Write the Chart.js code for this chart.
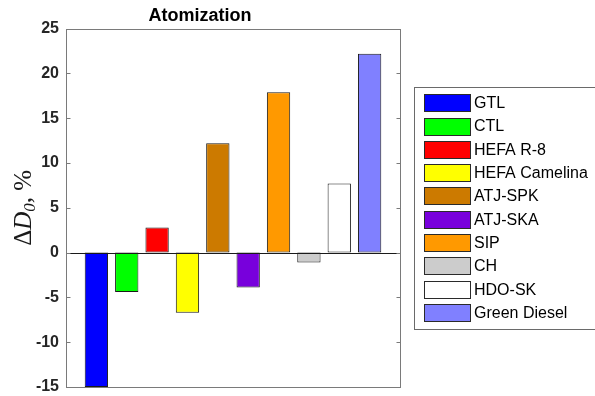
<!DOCTYPE html>
<html>
<head>
<meta charset="utf-8">
<script src="https://cdn.jsdelivr.net/npm/chart.js@4.4.1/dist/chart.umd.min.js"></script>
<style>
  html, body { margin: 0; padding: 0; background: #fff; }
  #wrap { width: 595px; height: 396px; }
</style>
</head>
<body>
<div id="wrap"><canvas id="c" width="595" height="396"></canvas></div>
<script>
// Fuel names, relative change in atomization diameter (%), and bar colours
const fuels = ['GTL', 'CTL', 'HEFA R-8', 'HEFA Camelina', 'ATJ-SPK', 'ATJ-SKA', 'SIP', 'CH', 'HDO-SK', 'Green Diesel'];
const deltaD0 = [-15, -4.4, 2.8, -6.7, 12.2, -3.9, 17.9, -1.1, 7.7, 22.2];
const fuelColors = ['#0000ff', '#00ff00', '#ff0000', '#ffff00', '#cc7a00', '#7800dc', '#ff9900', '#cccccc', '#ffffff', '#8080ff'];
const yTicks = [-15, -10, -5, 0, 5, 10, 15, 20, 25];
const chartTitle = 'Atomization';

const SANS = '"Liberation Sans", Arial, Helvetica, sans-serif';
const SERIF = '"Liberation Serif", "Times New Roman", serif';

const datasets = fuels.map((name, i) => ({
  label: name,
  data: [deltaD0[i]],
  backgroundColor: fuelColors[i],
  borderColor: '#1a1a1a',
  borderWidth: 1,
  borderSkipped: false,
  categoryPercentage: 0.909,
  barPercentage: 0.768
}));

// Axes box, inward tick marks on both sides and the zero baseline
const axesBox = {
  id: 'axesBox',
  afterDatasetsDraw(chart) {
    const { ctx, chartArea: a, scales } = chart;
    const y = scales.y;
    ctx.save();
    ctx.lineWidth = 1;
    const y0 = Math.round(y.getPixelForValue(0)) + 0.5;
    ctx.strokeStyle = '#1a1a1a';
    ctx.beginPath();
    ctx.moveTo(a.left, y0);
    ctx.lineTo(a.right, y0);
    ctx.stroke();
    ctx.strokeStyle = '#7a7a7a';
    const L = Math.round(a.left) + 0.5, R = Math.round(a.right) + 0.5;
    const T = Math.round(a.top) + 0.5, B = Math.round(a.bottom) + 0.5;
    ctx.strokeRect(L, T, R - L, B - T);
    ctx.beginPath();
    yTicks.forEach(v => {
      const py = Math.round(y.getPixelForValue(v)) + 0.5;
      ctx.moveTo(L, py); ctx.lineTo(L + 4, py);
      ctx.moveTo(R, py); ctx.lineTo(R - 4, py);
    });
    ctx.stroke();
    ctx.restore();
  }
};

// Rotated axis label: ΔD₀, %
const yLabel = {
  id: 'yLabel',
  afterDraw(chart) {
    const { ctx, chartArea: a } = chart;
    const big = 25, small = 17;
    const parts = [
      { t: '\u0394', f: `${big}px ${SERIF}`, dy: 0 },
      { t: 'D', f: `italic ${big}px ${SERIF}`, dy: 0 },
      { t: '0', f: `italic ${small}px ${SERIF}`, dy: 4 },
      { t: ', %', f: `${big}px ${SERIF}`, dy: 0 }
    ];
    ctx.save();
    let total = 0;
    parts.forEach(p => { ctx.font = p.f; p.w = ctx.measureText(p.t).width; total += p.w; });
    const cy = (a.top + a.bottom) / 2;
    ctx.translate(31, cy);
    ctx.rotate(-Math.PI / 2);
    ctx.fillStyle = '#1a1a1a';
    ctx.textBaseline = 'alphabetic';
    ctx.textAlign = 'left';
    let x = -total / 2;
    parts.forEach(p => {
      ctx.font = p.f;
      ctx.fillText(p.t, x, p.dy);
      x += p.w;
    });
    ctx.restore();
  }
};

// Legend drawn from the chart's datasets
const boxLegend = {
  id: 'boxLegend',
  afterDraw(chart) {
    const { ctx } = chart;
    const left = 414.5, top = 87.5, bottom = 329.5;
    const rowTop = 102.7, rowStep = 23.3;
    ctx.save();
    ctx.fillStyle = '#ffffff';
    ctx.fillRect(left, top, 200, bottom - top);
    ctx.strokeStyle = '#6a6a6a';
    ctx.lineWidth = 1;
    ctx.strokeRect(left, top, 200, bottom - top);
    ctx.font = `16px ${SANS}`;
    ctx.textBaseline = 'middle';
    ctx.textAlign = 'left';
    chart.data.datasets.forEach((ds, i) => {
      const cy = rowTop + i * rowStep;
      const sy = Math.round(cy - 8.5) + 0.5;
      ctx.fillStyle = ds.backgroundColor;
      ctx.fillRect(424.5, sy, 46, 17);
      ctx.strokeStyle = '#2a2a2a';
      ctx.strokeRect(424.5, sy, 46, 17);
      ctx.fillStyle = '#000000';
      ctx.fillText(ds.label, 474, cy + 1);
    });
    ctx.restore();
  }
};

new Chart(document.getElementById('c'), {
  type: 'bar',
  data: { labels: [''], datasets },
  options: {
    responsive: false,
    animation: false,
    layout: { padding: { left: 0, right: 195, top: 0, bottom: 9 } },
    plugins: {
      legend: { display: false },
      tooltip: { enabled: false },
      title: {
        display: true,
        text: chartTitle,
        color: '#000000',
        font: { family: SANS, size: 18, weight: 'bold', lineHeight: 1.2 },
        padding: { top: 5, bottom: 2 }
      }
    },
    scales: {
      x: { display: false },
      y: {
        min: -15,
        max: 25,
        afterFit(s) { s.width = 66; s.paddingTop = 0; s.paddingBottom = 0; },
        afterBuildTicks(s) { s.ticks = yTicks.map(v => ({ value: v })); },
        grid: { display: false, drawTicks: false },
        border: { display: false },
        ticks: {
          color: '#262626',
          padding: 7,
          font: { family: SANS, size: 16, weight: 'bold' }
        }
      }
    }
  },
  plugins: [axesBox, yLabel, boxLegend]
});
</script>
</body>
</html>
